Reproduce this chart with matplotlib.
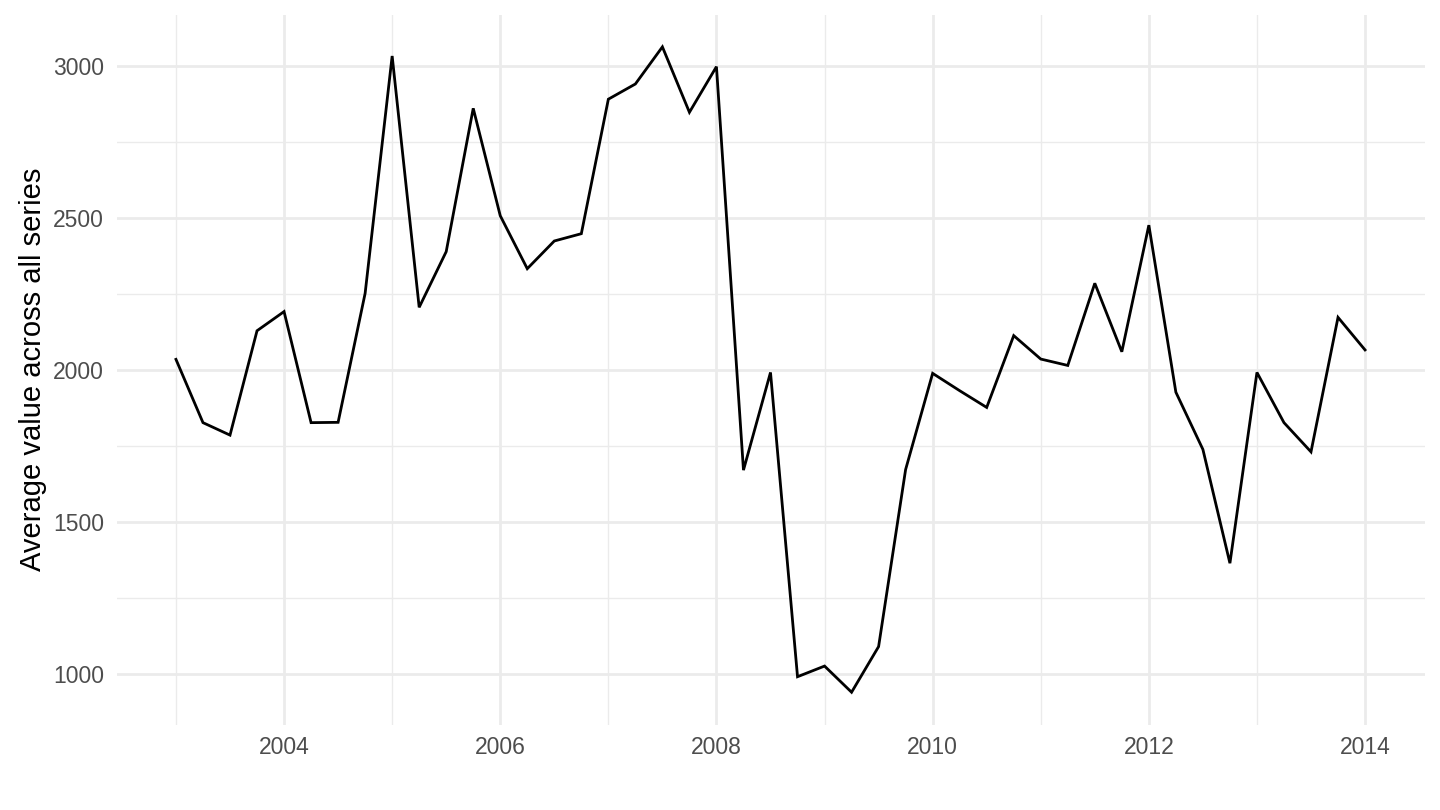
import numpy as np
import matplotlib
matplotlib.use('Agg')
import matplotlib.pyplot as plt
from matplotlib.ticker import MultipleLocator

plt.rcParams['font.family'] = ['Liberation Sans', 'DejaVu Sans']

# quarterly averages, 2003Q1 .. 2014Q1
year = np.arange(2003.0, 2014.01, 0.25)
avg_value = [2035, 1827, 1786, 2129, 2192, 1827, 1828, 2252,
             3032, 2206, 2389, 2860, 2507, 2333, 2424, 2448,
             2890, 2940, 3062, 2847, 2997, 1671, 1992, 992,
             1027, 941, 1091, 1673, 1989, 1932, 1877, 2113,
             2036, 2015, 2285, 2060, 2476, 1927, 1739, 1365,
             1992, 1827, 1731, 2173, 2066]

x_ticks = [2004, 2006, 2008, 2010, 2012, 2014]
y_ticks = [1000, 1500, 2000, 2500, 3000]

fig = plt.figure(figsize=(14.4, 8.1), dpi=100)
ax = fig.add_axes([116.5/1440, 1 - 724.5/810, (1424.5 - 116.5)/1440, (724.5 - 14.6)/810])

ax.plot(year, avg_value, color='black', lw=2.0, solid_joinstyle='miter', zorder=3)

# ggplot-like limits with 5% expansion
xr = year[-1] - year[0]
ax.set_xlim(year[0] - 0.05*xr, year[-1] + 0.05*xr)
yr = max(avg_value) - min(avg_value)
ax.set_ylim(min(avg_value) - 0.05*yr, max(avg_value) + 0.05*yr)

ax.set_xticks(x_ticks)
ax.set_yticks(y_ticks)
ax.xaxis.set_minor_locator(MultipleLocator(2, offset=1))
ax.yaxis.set_minor_locator(MultipleLocator(500, offset=250))

ax.grid(which='major', color='#EBEBEB', lw=2.0)
ax.grid(which='minor', color='#EBEBEB', lw=1.0)
ax.set_axisbelow(True)
for s in ax.spines.values():
    s.set_visible(False)
ax.tick_params(which='both', length=0)
ax.tick_params(axis='y', labelsize=16.5, labelcolor='#4D4D4D', pad=9)
ax.tick_params(axis='x', labelsize=16.5, labelcolor='#4D4D4D', pad=8)

ax.set_ylabel('Average value across all series', fontsize=21, color='black', labelpad=4)

fig.savefig('out.png', dpi=100)
